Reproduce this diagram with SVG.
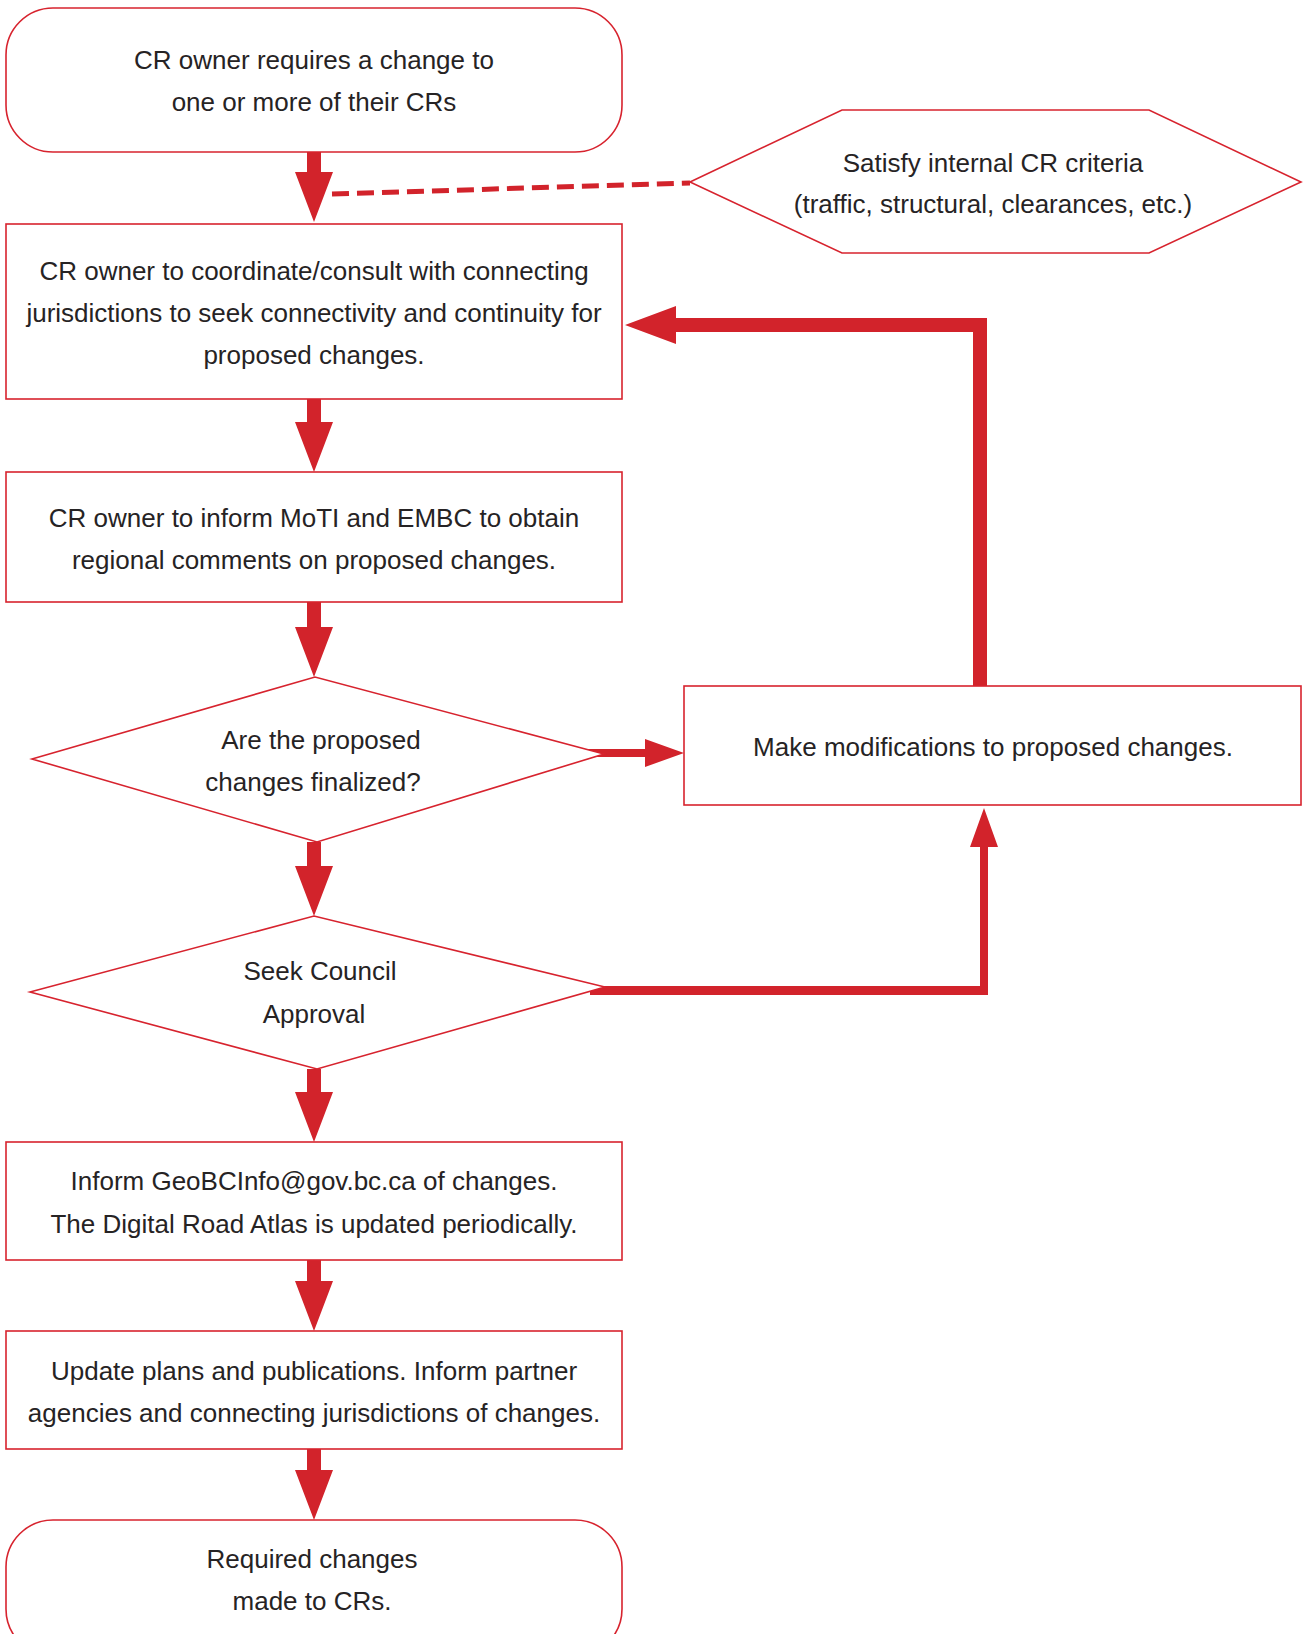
<svg xmlns="http://www.w3.org/2000/svg" width="1305" height="1634" viewBox="0 0 1305 1634">
<style>
.box{fill:#fff;stroke:#d7232e;stroke-width:1.6}
.t{font-family:"Liberation Sans",Arial,sans-serif;font-size:26px;fill:#262324;text-anchor:middle}
.arr{fill:#d2232b;stroke:none}
.dash{fill:none;stroke:#d2232b;stroke-width:5;stroke-dasharray:17 8}
</style>
<rect width="1305" height="1634" fill="#fff"/>
<g id="connectors">
<path class="arr" d="M307,152 H321 V172 H333 L314,222 L295,172 H307 Z"/>
<path class="arr" d="M307,399 H321 V422 H333 L314,472 L295,422 H307 Z"/>
<path class="arr" d="M307,602 H321 V627 H333 L314,677 L295,627 H307 Z"/>
<path class="arr" d="M307,842 H321 V866 H333 L314,916 L295,866 H307 Z"/>
<path class="arr" d="M307,1069 H321 V1092 H333 L314,1142 L295,1092 H307 Z"/>
<path class="arr" d="M307,1260 H321 V1281 H333 L314,1331 L295,1281 H307 Z"/>
<path class="arr" d="M307,1449 H321 V1470 H333 L314,1520 L295,1470 H307 Z"/>
<path class="arr" d="M987,686 V318 H676 V306 L625,325 L676,344 V332 H973 V686 Z"/>
<path class="arr" d="M585,749 H645 V739 L684,753 L645,767 V757 H585 Z"/>
<path class="arr" d="M590,986 H980 V847 H970 L984,808 L998,847 H988 V995 H590 Z"/>
<line class="dash" x1="332" y1="194" x2="690" y2="183"/>
</g>
<g id="start">
<rect class="box" x="6" y="8" width="616" height="144" rx="47" ry="47"/>
<text class="t" x="314" y="69">CR owner requires a change to</text>
<text class="t" x="314" y="111">one or more of their CRs</text>
</g>
<g id="criteria">
<polygon class="box" points="690,182 842,110 1149,110 1301,182 1149,253 842,253"/>
<text class="t" x="993" y="172">Satisfy internal CR criteria</text>
<text class="t" x="993" y="213">(traffic, structural, clearances, etc.)</text>
</g>
<g id="coordinate">
<rect class="box" x="6" y="224" width="616" height="175"/>
<text class="t" x="314" y="280">CR owner to coordinate/consult with connecting</text>
<text class="t" x="314" y="322">jurisdictions to seek connectivity and continuity for</text>
<text class="t" x="314" y="364">proposed changes.</text>
</g>
<g id="inform-moti">
<rect class="box" x="6" y="472" width="616" height="130"/>
<text class="t" x="314" y="527">CR owner to inform MoTI and EMBC to obtain</text>
<text class="t" x="314" y="569">regional comments on proposed changes.</text>
</g>
<g id="finalized">
<polygon class="box" points="32,759 315,677 604,754 317,842"/>
<text class="t" x="321" y="749">Are the proposed</text>
<text class="t" x="313" y="791">changes finalized?</text>
</g>
<g id="modify">
<rect class="box" x="684" y="686" width="617" height="119"/>
<text class="t" x="993" y="756">Make modifications to proposed changes.</text>
</g>
<g id="council">
<polygon class="box" points="30,992 314,916 605,987 317,1069"/>
<text class="t" x="320" y="980">Seek Council</text>
<text class="t" x="314" y="1023">Approval</text>
</g>
<g id="inform-geobc">
<rect class="box" x="6" y="1142" width="616" height="118"/>
<text class="t" x="314" y="1190">Inform GeoBCInfo@gov.bc.ca of changes.</text>
<text class="t" x="314" y="1233">The Digital Road Atlas is updated periodically.</text>
</g>
<g id="update">
<rect class="box" x="6" y="1331" width="616" height="118"/>
<text class="t" x="314" y="1380">Update plans and publications. Inform partner</text>
<text class="t" x="314" y="1422">agencies and connecting jurisdictions of changes.</text>
</g>
<g id="end">
<rect class="box" x="6" y="1520" width="616" height="136" rx="47" ry="47"/>
<text class="t" x="312" y="1568">Required changes</text>
<text class="t" x="312" y="1610">made to CRs.</text>
</g>
</svg>
